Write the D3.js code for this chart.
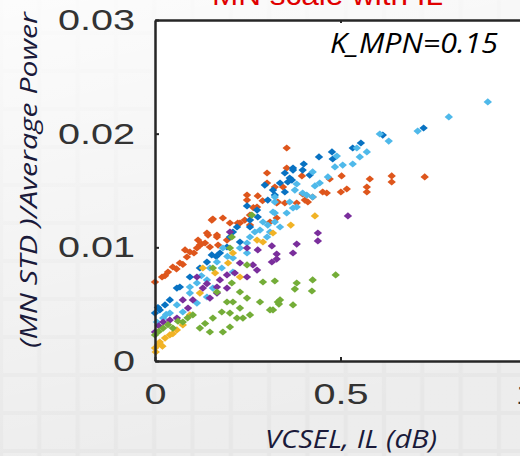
<!DOCTYPE html>
<html><head><meta charset="utf-8">
<script src="https://cdn.jsdelivr.net/npm/d3@7"></script>
<style>html,body{margin:0;padding:0;overflow:hidden;background:#eee}</style>
</head><body><svg id="c" width="520" height="456"></svg>
<script>
// ---- data (x = VCSEL IL in dB, y = MN STD / Average Power) ----
const xTicks = [0, 0.5, 1];
const yTicks = [0, 0.01, 0.02, 0.03];
const xTickLabels = ["0", "0.5", "1"];
const yTickLabels = ["0", "0.01", "0.02", "0.03"];
const seriesNames = ["orange", "darkBlue", "lightBlue", "yellow", "purple", "green"];
const seriesColors = ["#DE561C", "#0872C2", "#4FB9EA", "#F1B326", "#7A2E9C", "#74AD38"];

const orangeX = [0.000,0.019,0.035,0.048,0.067,0.081,0.094,0.086,0.113,0.116,0.135,0.143,0.167,0.156,0.183,0.202,0.223,0.242,0.256,0.148,0.170,0.194,
  0.355,0.302,0.302,0.248,0.248,0.275,0.328,0.350,0.382,0.404,0.425,0.452,0.463,0.328,0.310,0.256,0.229,0.153,0.140,0.167,0.121,
  0.355,0.396,0.471,0.503,0.579,0.638,0.638,0.727,0.571,0.571,0.517,0.501,0.398,0.323,0.345,0.412,0.331,0.277,
  0.027,0.058,0.075,0.105,0.125,0.290,0.265];
const orangeY = [0.00695,0.00739,0.00783,0.00827,0.00862,0.00977,0.00959,0.00915,0.00994,0.01064,0.01038,0.01108,0.01108,0.01249,0.01258,0.01214,0.01214,0.0124,0.01196,0.01003,0.0102,0.01064,
  0.01874,0.01654,0.01566,0.0146,0.01416,0.01355,0.0139,0.0139,0.0139,0.01416,0.01443,0.01487,0.01478,0.01258,0.01223,0.01284,0.01214,0.0124,0.01126,0.01091,0.0102,
  0.01698,0.01628,0.01601,0.01628,0.01601,0.01628,0.01575,0.01619,0.01531,0.01487,0.01513,0.01487,0.01469,0.01531,0.01531,0.01399,0.01399,0.01452,
  0.0075,0.0081,0.0085,0.0095,0.0103,0.0141,0.0135];

const darkBlueX = [0.724,0.614,0.555,0.533,0.477,0.479,0.442,0.401,0.372,0.398,0.417,0.350,0.363,0.358,0.350,0.323,
  0.372,0.369,0.296,0.337,0.304,0.248,0.275,0.256,0.221,0.202,0.194,0.318,
  0.210,0.256,0.277,0.153,0.175,0.121,0.094,0.067,0.229,0.013,0.000,0.059,0.027,0.040,0.008,0.140,0.165];
const darkBlueY = [0.0205,0.01988,0.01918,0.01874,0.01839,0.01777,0.01795,0.01733,0.01698,0.0168,0.01636,0.01654,0.0161,0.01575,0.01487,0.0146,
  0.0168,0.01592,0.01548,0.01566,0.01416,0.01364,0.01328,0.01179,0.01179,0.01091,0.01003,0.01504,
  0.01135,0.0124,0.01267,0.00933,0.0095,0.00818,0.00739,0.00651,0.01047,0.00449,0.00422,0.00642,0.00493,0.00537,0.0047,0.0087,0.0092];

const lightBlueX = [0.897,0.792,0.708,0.606,0.630,0.544,0.571,0.490,0.552,0.533,0.506,0.485,0.425,0.466,0.382,0.431,0.444,0.377,0.398,0.425,0.363,0.323,
  0.382,0.323,0.304,0.269,0.248,0.302,0.337,0.409,0.355,0.372,0.323,0.318,
  0.291,0.323,0.283,0.310,0.256,0.183,0.229,0.248,0.210,0.167,0.148,0.180,0.210,0.113,0.140,0.094,
  0.005,0.040,0.075,0.113,0.140,0.156,0.094,0.022,0.059,0.030,0.125,0.195];
const lightBlueY = [0.02279,0.02147,0.02023,0.01997,0.01935,0.01874,0.01839,0.01803,0.01795,0.01733,0.01724,0.01707,0.01663,0.01619,0.01557,0.0154,0.01566,0.01504,0.01478,0.01443,0.01399,0.01399,
  0.01355,0.01302,0.01196,0.01135,0.01038,0.01091,0.01179,0.0146,0.01302,0.01346,0.01443,0.01311,
  0.01223,0.01223,0.01152,0.01135,0.01091,0.00994,0.00994,0.0095,0.00906,0.00871,0.00818,0.00818,0.00783,0.00686,0.00713,0.00651,
  0.00343,0.00422,0.00431,0.0051,0.00563,0.00642,0.00598,0.00378,0.00493,0.0041,0.0075,0.0092];

const yellowX = [0.431,0.366,0.318,0.275,0.291,0.197,0.129,0.162,0.229,0.121,0.094,0.059,0.040,0.013,0.000,0.002,0.027,0.075,0.008,0.210,0.020,0.048];
const yellowY = [0.01276,0.01196,0.01126,0.01064,0.01047,0.00862,0.00818,0.00774,0.00739,0.00598,0.00405,0.00273,0.00229,0.00167,0.00114,0.00079,0.00202,0.00317,0.00141,0.0095,0.0013,0.0024];

const purpleX = [0.520,0.439,0.439,0.382,0.372,0.328,0.328,0.315,0.315,0.248,0.277,0.202,0.229,0.264,0.275,0.194,0.215,0.175,0.113,0.248,0.167,0.129,
  0.022,0.059,0.075,0.102,0.148,0.167,0.194,0.000,0.089,0.010,0.040,0.140];
const purpleY = [0.01276,0.01126,0.01056,0.01029,0.0095,0.00941,0.00897,0.01012,0.00871,0.00994,0.00977,0.01135,0.00862,0.00845,0.008,0.00757,0.00774,0.00713,0.00739,0.00739,0.00651,0.00642,
  0.00343,0.00378,0.00537,0.00537,0.00554,0.00598,0.00642,0.00255,0.00466,0.0031,0.0036,0.0068];

const greenX = [0.487,0.425,0.423,0.382,0.377,0.323,0.337,0.334,0.372,0.318,0.261,0.207,0.202,0.248,0.291,0.207,0.156,
  0.000,0.022,0.048,0.075,0.102,0.121,0.148,0.183,0.202,0.156,0.180,0.202,0.221,0.237,0.256,0.194,0.210,0.229,0.229,0.248,0.283,0.310,0.331,0.167,
  0.010,0.035,0.062,0.088,0.135];
const greenY = [0.00757,0.00713,0.00616,0.00686,0.00633,0.00704,0.00537,0.00501,0.00493,0.00449,0.01284,0.01091,0.00994,0.00845,0.00695,0.00686,0.00818,
  0.00229,0.0029,0.0029,0.00343,0.00405,0.0029,0.00255,0.00255,0.00299,0.00378,0.00431,0.00422,0.00378,0.00378,0.00405,0.00519,0.00519,0.00466,0.00607,0.00554,0.00519,0.00449,0.00519,0.00607,
  0.0026,0.0032,0.0035,0.0038,0.0033];

const seriesX = [orangeX, darkBlueX, lightBlueX, yellowX, purpleX, greenX];
const seriesY = [orangeY, darkBlueY, lightBlueY, yellowY, purpleY, greenY];

// ---- drawing ----
const svg = d3.select("#c");
const W = 520, H = 456;

// tiled slide background
const defs = svg.append("defs");
const pat = defs.append("pattern").attr("id","tile").attr("patternUnits","userSpaceOnUse")
  .attr("width",38.3).attr("height",38).attr("x",1).attr("y",33);
pat.append("rect").attr("width",38.3).attr("height",38).attr("fill","#e6e6e6");
pat.append("rect").attr("x",2).attr("y",2).attr("width",34.3).attr("height",34).attr("fill","#ececec");
const grad = defs.append("linearGradient").attr("id","fade").attr("x1",0).attr("y1",0).attr("x2",0.25).attr("y2",1);
grad.append("stop").attr("offset","0%").attr("stop-color","#ffffff").attr("stop-opacity",0.85);
grad.append("stop").attr("offset","60%").attr("stop-color","#ffffff").attr("stop-opacity",0.35);
grad.append("stop").attr("offset","100%").attr("stop-color","#ffffff").attr("stop-opacity",0.05);
svg.append("rect").attr("width",W).attr("height",H).attr("fill","url(#tile)");
svg.append("rect").attr("width",W).attr("height",H).attr("fill","url(#fade)");

const x = d3.scaleLinear().domain([0, 1]).range([155, 526]);
const y = d3.scaleLinear().domain([0, 0.03]).range([361, 20]);

// plot area
svg.append("rect").attr("x", x(0)).attr("y", y(0.03)).attr("width", x(1) - x(0)).attr("height", y(0) - y(0.03))
  .attr("fill", "#ffffff");

// red title (cut off at the top)
svg.append("text").attr("x", 212).attr("y", 5).attr("textLength", 231).attr("lengthAdjust","spacingAndGlyphs")
  .attr("font-family", "Liberation Sans, Arial, sans-serif").attr("font-size", 30)
  .attr("fill", "#E00000").text("MN scale with IL");

// points
const diamond = "M0,-3.6L4.2,0L0,3.6L-4.2,0Z";
seriesNames.forEach((name, i) => {
  const pts = seriesX[i].map((v, j) => [v, seriesY[i][j]]);
  svg.append("g").attr("class", name).selectAll("path").data(pts).join("path")
    .attr("d", diamond)
    .attr("transform", d => `translate(${x(d[0])},${y(d[1])})`)
    .attr("fill", seriesColors[i]);
});

// axes
const axisColor = "#262626";
const gy = svg.append("g").attr("transform", `translate(${x(0)},0)`)
  .call(d3.axisLeft(y).tickValues(yTicks).tickFormat((d, i) => yTickLabels[i]).tickSizeInner(-4).tickSizeOuter(0).tickPadding(20));
const gx = svg.append("g").attr("transform", `translate(0,${y(0)})`)
  .call(d3.axisBottom(x).tickValues(xTicks).tickFormat((d, i) => xTickLabels[i]).tickSizeInner(-4).tickSizeOuter(0).tickPadding(22));
const gt = svg.append("g").attr("transform", `translate(0,${y(0.03)})`)
  .call(d3.axisTop(x).tickValues([0.5]).tickFormat("").tickSizeInner(-3).tickSizeOuter(0));
[gx, gy, gt].forEach(g => {
  g.select(".domain").attr("stroke", axisColor).attr("stroke-width", 2.5);
  g.selectAll(".tick line").attr("stroke", axisColor).attr("stroke-width", 2);
  g.selectAll("text").attr("font-family", "Liberation Sans, Arial, sans-serif").attr("font-size", 30).attr("fill", "#333333");
});
gy.selectAll(".tick text").attr("x", -20 / 1.32).attr("transform", "scale(1.32,1)");
gx.selectAll(".tick text").attr("transform", "scale(1.32,1)");

// annotation
svg.append("text").attr("x", 330).attr("y", 53).attr("textLength", 168).attr("lengthAdjust","spacingAndGlyphs")
  .attr("font-family", "Open Sans, sans-serif").attr("font-style", "italic").attr("font-size", 28)
  .attr("fill", "#000000").text("K_MPN=0.15");

// axis titles
svg.append("text").attr("x", 265).attr("y", 448).attr("textLength", 172).attr("lengthAdjust","spacingAndGlyphs")
  .attr("font-family", "Open Sans, sans-serif").attr("font-style", "italic").attr("font-size", 25)
  .attr("fill", "#1A1A3A").text("VCSEL, IL (dB)");
svg.append("text").attr("transform", "translate(37,348) rotate(-90)").attr("x", 0).attr("y", 0)
  .attr("textLength", 336).attr("lengthAdjust","spacingAndGlyphs")
  .attr("font-family", "Open Sans, sans-serif").attr("font-style", "italic").attr("font-size", 23)
  .attr("fill", "#1A1A3A").text("(MN STD )/Average Power");
</script></body></html>
